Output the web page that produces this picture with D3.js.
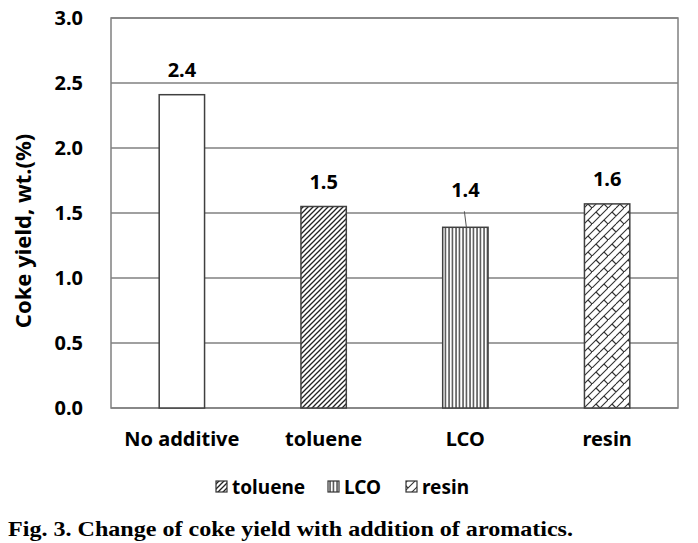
<!DOCTYPE html>
<html>
<head>
<meta charset="utf-8">
<script src="https://cdn.jsdelivr.net/npm/d3@7"></script>
<style>
  body { margin: 0; background: #fff; }
  text { font-family: "Noto Sans", "DejaVu Sans", sans-serif; font-weight: bold; }
</style>
</head>
<body>
<div id="chart"></div>
<script>
const categories = ['No additive', 'toluene', 'LCO', 'resin'];
const cokeYield = [2.41, 1.55, 1.39, 1.57];
const valueLabels = ['2.4', '1.5', '1.4', '1.6'];
const patternIds = ['none', 'toluene', 'lco', 'resin'];
const legendItems = ['toluene', 'LCO', 'resin'];
const yTicks = [0, 0.5, 1.0, 1.5, 2.0, 2.5, 3.0];

const width = 698;
const height = 543;
const margin = { top: 18, right: 20, bottom: 135, left: 111 };

const svg = d3.select('#chart')
  .append('svg')
  .attr('width', width)
  .attr('height', height);

// patterns
const defs = svg.append('defs');

const tol = defs.append('pattern')
  .attr('id', 'toluene')
  .attr('patternUnits', 'userSpaceOnUse')
  .attr('width', 5)
  .attr('height', 5);
tol.append('rect').attr('width', 5).attr('height', 5).attr('fill', '#fff');
tol.append('path')
  .attr('d', 'M-1,1 l2,-2 M0,5 l5,-5 M4,6 l2,-2')
  .attr('stroke', '#222')
  .attr('stroke-width', 1.3);

const lco = defs.append('pattern')
  .attr('id', 'lco')
  .attr('patternUnits', 'userSpaceOnUse')
  .attr('width', 3.5)
  .attr('height', 4);
lco.append('rect').attr('width', 3.5).attr('height', 4).attr('fill', '#fff');
lco.append('path')
  .attr('d', 'M1,0 V4')
  .attr('stroke', '#222')
  .attr('stroke-width', 1.2);

const res = defs.append('pattern')
  .attr('id', 'resin')
  .attr('patternUnits', 'userSpaceOnUse')
  .attr('width', 16)
  .attr('height', 16);
res.append('rect').attr('width', 16).attr('height', 16).attr('fill', '#fff');
res.append('path')
  .attr('d', 'M0,16 L16,0 M-8,16 L8,0 M8,16 L24,0 M4,4 L8,8 M12,12 L16,16 M-4,12 L0,16 M12,-4 L16,0')
  .attr('stroke', '#333')
  .attr('stroke-width', 1.1)
  .attr('fill', 'none');

const x = d3.scaleBand()
  .domain(categories)
  .range([margin.left, width - margin.right])
  .paddingInner(0.68)
  .paddingOuter(0.34);

const y = d3.scaleLinear()
  .domain([0, 3])
  .range([height - margin.bottom, margin.top]);

// grid lines
svg.append('g')
  .selectAll('line')
  .data(yTicks)
  .enter()
  .append('line')
  .attr('x1', margin.left)
  .attr('x2', width - margin.right)
  .attr('y1', (d) => y(d))
  .attr('y2', (d) => y(d))
  .attr('stroke', '#808080')
  .attr('stroke-width', 1.5);

// plot border
svg.append('rect')
  .attr('x', margin.left)
  .attr('y', margin.top)
  .attr('width', width - margin.right - margin.left)
  .attr('height', y(0) - margin.top)
  .attr('fill', 'none')
  .attr('stroke', '#808080')
  .attr('stroke-width', 1.5);

// bars
svg.append('g')
  .selectAll('rect')
  .data(categories)
  .enter()
  .append('rect')
  .attr('x', (d) => x(d))
  .attr('width', x.bandwidth())
  .attr('y', (d, i) => y(cokeYield[i]))
  .attr('height', (d, i) => y(0) - y(cokeYield[i]))
  .attr('fill', (d, i) => (patternIds[i] === 'none' ? '#fff' : `url(#${patternIds[i]})`))
  .attr('stroke', '#404040')
  .attr('stroke-width', 1.5);

// value labels
svg.append('g')
  .selectAll('text')
  .data(categories)
  .enter()
  .append('text')
  .attr('x', (d) => x(d) + x.bandwidth() / 2)
  .attr('y', (d, i) => (i === 2 ? y(cokeYield[i]) - 30 : y(cokeYield[i]) - 18))
  .attr('text-anchor', 'middle')
  .style('font-size', '20px')
  .text((d, i) => valueLabels[i]);

// leader line for LCO
svg.append('line')
  .attr('x1', x('LCO') + x.bandwidth() / 2 - 1)
  .attr('y1', y(cokeYield[2]) - 16)
  .attr('x2', x('LCO') + x.bandwidth() / 2 + 1)
  .attr('y2', y(cokeYield[2]))
  .attr('stroke', '#555')
  .attr('stroke-width', 1);

// y axis labels
svg.append('g')
  .selectAll('text')
  .data(yTicks)
  .enter()
  .append('text')
  .attr('x', 83)
  .attr('y', (d) => y(d) + 7)
  .attr('text-anchor', 'end')
  .style('font-size', '20px')
  .text((d) => d.toFixed(1));

// x axis labels
svg.append('g')
  .selectAll('text')
  .data(categories)
  .enter()
  .append('text')
  .attr('x', (d) => x(d) + x.bandwidth() / 2)
  .attr('y', 446)
  .attr('text-anchor', 'middle')
  .style('font-size', '20px')
  .text((d) => d);

// y axis title
svg.append('text')
  .attr('transform', 'translate(31 231) rotate(-90)')
  .attr('text-anchor', 'middle')
  .style('font-size', '22px')
  .text('Coke yield, wt.(%)');

// legend
const legendX = [216, 328, 406];
const legend = svg.append('g');
legend.selectAll('rect')
  .data(legendItems)
  .enter()
  .append('rect')
  .attr('x', (d, i) => legendX[i])
  .attr('y', 481)
  .attr('width', 11)
  .attr('height', 11)
  .attr('fill', (d, i) => `url(#${patternIds[i + 1]})`)
  .attr('stroke', '#333')
  .attr('stroke-width', 1.2);
legend.selectAll('text')
  .data(legendItems)
  .enter()
  .append('text')
  .attr('x', (d, i) => legendX[i] + 16)
  .attr('y', 494)
  .style('font-size', '19px')
  .text((d) => d);

// caption
svg.append('text')
  .attr('x', 8)
  .attr('y', 536)
  .attr('textLength', 565)
  .attr('lengthAdjust', 'spacingAndGlyphs')
  .style('font-family', '"Liberation Serif", "Times New Roman", serif')
  .style('font-size', '22px')
  .style('font-weight', 'bold')
  .text('Fig. 3. Change of coke yield with addition of aromatics.');
</script>
</body>
</html>
